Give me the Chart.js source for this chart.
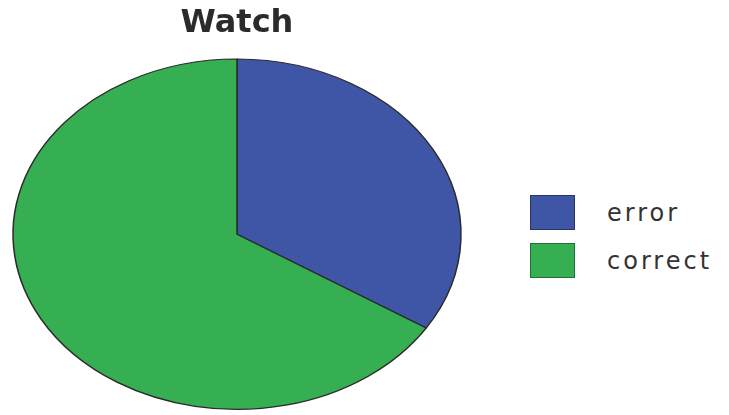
<!DOCTYPE html>
<html>
<head>
<meta charset="utf-8">
<script src="https://cdn.jsdelivr.net/npm/chart.js@4/dist/chart.umd.min.js"></script>
<style>
  body { margin: 0; background: #fff; font-family: "Comic Sans MS", "DejaVu Sans", sans-serif; }
  .wrap { position: relative; width: 729px; height: 415px; }
  #chart { position: absolute; left: 0; top: 0; }
  #legend { position: absolute; left: 530px; top: 195px; }
  .item { display: flex; align-items: center; margin-bottom: 13px; }
  .swatch { width: 43px; height: 33px; border: 1px solid; }
  .label { margin-left: 32px; font-size: 24px; letter-spacing: 3px; color: #333; }
</style>
</head>
<body>
<div class="wrap">
  <canvas id="chart" width="474" height="415"></canvas>
  <div id="legend"></div>
</div>
<script>
    const labels = ['error', 'correct'];
    const values = [34, 66];
    const colors = ['#3F56A6', '#35AF52'];
    const edges = ['#2a3564', '#22703a'];

    // pie is drawn as an ellipse: stretch horizontally around the arc centre
    const stretchX = 225 / 176;
    const ellipse = {
        id: 'ellipse',
        beforeDatasetsDraw(chart) {
            const arc = chart.getDatasetMeta(0).data[0];
            const ctx = chart.ctx;
            ctx.save();
            ctx.translate(arc.x, arc.y);
            ctx.scale(stretchX, 1);
            ctx.translate(-arc.x, -arc.y);
        },
        afterDatasetsDraw(chart) {
            chart.ctx.restore();
        }
    };

    const chart = new Chart(document.getElementById('chart'), {
        type: 'pie',
        data: {
            labels: labels,
            datasets: [{
                data: values,
                backgroundColor: colors,
                borderColor: '#2b2b2b',
                borderWidth: 1.2
            }]
        },
        options: {
            responsive: false,
            animation: false,
            layout: { padding: { bottom: 5 } },
            plugins: {
                legend: { display: false },
                tooltip: { enabled: false },
                title: {
                    display: true,
                    text: 'Watch',
                    color: '#2b2b2b',
                    font: { size: 32, weight: 'bold', family: '"Comic Sans MS", "DejaVu Sans", sans-serif' },
                    padding: { top: 4, bottom: 16 }
                }
            }
        },
        plugins: [ellipse]
    });

    // legend built from the chart's own items
    const legend = document.getElementById('legend');
    chart.options.plugins.legend.labels.generateLabels(chart).forEach((item, i) => {
        const row = document.createElement('div');
        row.className = 'item';
        const box = document.createElement('span');
        box.className = 'swatch';
        box.style.background = item.fillStyle;
        box.style.borderColor = edges[i];
        const text = document.createElement('span');
        text.className = 'label';
        text.textContent = item.text;
        row.appendChild(box);
        row.appendChild(text);
        legend.appendChild(row);
    });
</script>
</body>
</html>
